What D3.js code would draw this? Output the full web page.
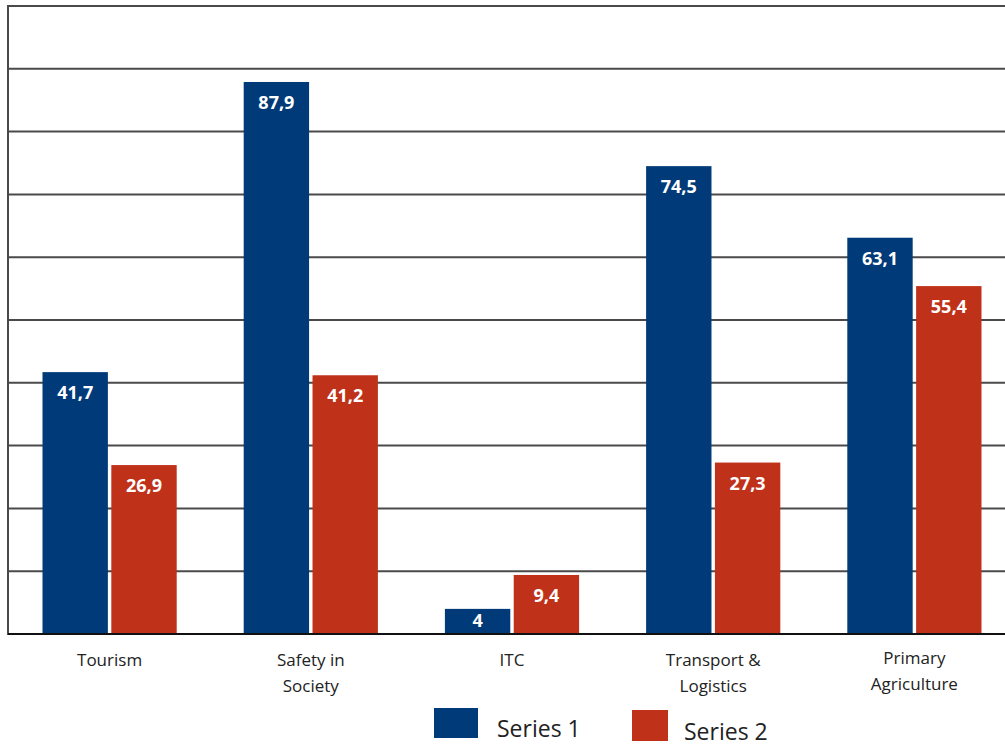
<!DOCTYPE html>
<html>
<head>
<meta charset="utf-8">
<script src="https://cdn.jsdelivr.net/npm/d3@7"></script>
<style>
  body { margin: 0; background: #fff; }
  text { font-family: "Open Sans", sans-serif; }
</style>
</head>
<body>
<div id="chart"></div>
<script>
// data
const categories = [["Tourism"], ["Safety in", "Society"], ["ITC"], ["Transport &", "Logistics"], ["Primary", "Agriculture"]]
const series1 = [41.7, 87.9, 4, 74.5, 63.1]
const series2 = [26.9, 41.2, 9.4, 27.3, 55.4]
const seriesNames = ["Series 1", "Series 2"]
const yTicks = [0, 10, 20, 30, 40, 50, 60, 70, 80, 90, 100]

const W = 1005, H = 746
const colors = ["#003a78", "#c0311a"]

const svg = d3.select("#chart").append("svg")
  .attr("width", W).attr("height", H)

const x = d3.scaleBand()
  .domain(d3.range(categories.length))
  .range([9, 1015])
  .paddingInner(0.333)
  .paddingOuter(0.1665)

const y = d3.scaleLinear().domain([0, 100]).range([634, 6])

// gridlines
svg.append("g").selectAll("line")
  .data(yTicks.slice(1))
  .join("line")
    .attr("x1", 8).attr("x2", W)
    .attr("y1", d => y(d)).attr("y2", d => y(d))
    .attr("stroke", "#4a4a4a")
    .attr("stroke-width", 2)

const rows = categories.map((c, i) => ({i, vals: [series1[i], series2[i]]}))

const inner = d3.scaleBand().domain([0, 1]).range([0, x.bandwidth()]).paddingInner(0.05)

const groups = svg.append("g").selectAll("g")
  .data(rows)
  .join("g")
    .attr("transform", d => `translate(${x(d.i)},0)`)

groups.selectAll("rect")
  .data(d => d.vals.map((v, k) => ({v, k})))
  .join("rect")
    .attr("x", d => inner(d.k))
    .attr("y", d => y(d.v))
    .attr("width", inner.bandwidth())
    .attr("height", d => y(0) - y(d.v))
    .attr("fill", d => colors[d.k])

groups.selectAll("text.val")
  .data(d => d.vals.map((v, k) => ({v, k})))
  .join("text")
    .attr("class", "val")
    .attr("x", d => inner(d.k) + inner.bandwidth() / 2)
    .attr("y", d => Math.min(y(d.v) + 27, y(0) - 7))
    .attr("text-anchor", "middle")
    .attr("fill", "#fff")
    .style("font-size", "18px")
    .style("font-weight", "bold")
    .text(d => String(d.v).replace(".", ","))

// axes lines
svg.append("line")
  .attr("x1", 8).attr("x2", 8).attr("y1", 5).attr("y2", y(0) + 1)
  .attr("stroke", "#4a4a4a").attr("stroke-width", 2)
svg.append("line")
  .attr("x1", 8).attr("x2", W).attr("y1", y(0)).attr("y2", y(0))
  .attr("stroke", "#111").attr("stroke-width", 2)

// category labels
const labels = svg.append("g").selectAll("text")
  .data(categories)
  .join("text")
    .attr("x", (d, i) => x(i) + x.bandwidth() / 2)
    .attr("y", (d, i) => i === 4 ? 664 : 666)
    .attr("text-anchor", "middle")
    .attr("fill", "#222")
    .style("font-size", "17px")

labels.selectAll("tspan")
  .data(d => d)
  .join("tspan")
    .attr("x", function () { return d3.select(this.parentNode).attr("x") })
    .attr("dy", (d, i) => i === 0 ? 0 : 26)
    .text(d => d)

// legend
const legendPos = [
  {rx: 434, ry: 708, rw: 44, rh: 30, tx: 497, ty: 737},
  {rx: 632, ry: 710, rw: 36, rh: 31, tx: 684, ty: 740}
]
const legend = svg.append("g").selectAll("g")
  .data(seriesNames)
  .join("g")
legend.append("rect")
  .attr("x", (d, i) => legendPos[i].rx)
  .attr("y", (d, i) => legendPos[i].ry)
  .attr("width", (d, i) => legendPos[i].rw)
  .attr("height", (d, i) => legendPos[i].rh)
  .attr("fill", (d, i) => colors[i])
legend.append("text")
  .attr("x", (d, i) => legendPos[i].tx)
  .attr("y", (d, i) => legendPos[i].ty)
  .attr("fill", "#222")
  .style("font-size", "23px")
  .text(d => d)
</script>
</body>
</html>
